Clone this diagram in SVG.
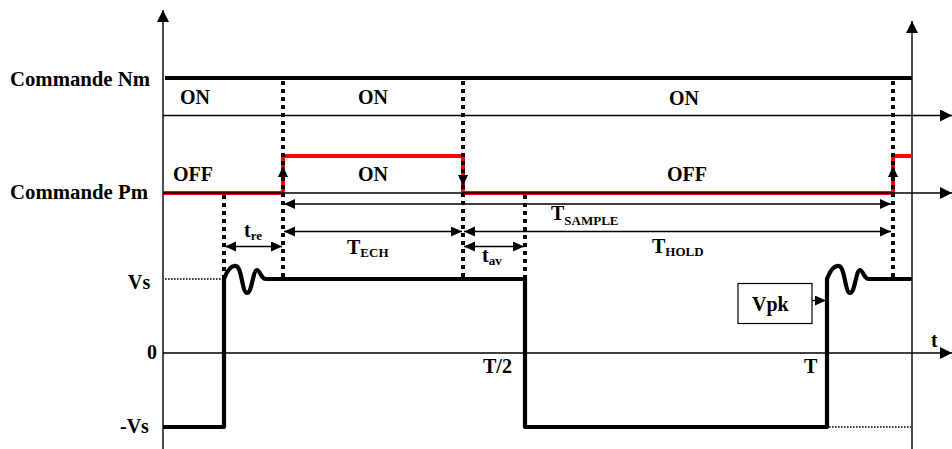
<svg xmlns="http://www.w3.org/2000/svg" width="952" height="449" viewBox="0 0 952 449">
<style>
text{font-family:"Liberation Serif","Times New Roman",serif;font-weight:bold;fill:#000}
.lab{font-size:20px}
.sub{font-size:13px}
.thin{stroke:#000;stroke-width:1.4;fill:none}
.dots{stroke:#000;stroke-width:4;stroke-dasharray:4 4;fill:none}
.fine{stroke:#000;stroke-width:1.3;stroke-dasharray:1.6 1.4;fill:none}
.sig{stroke:#000;stroke-width:4.2;fill:none;stroke-linejoin:round}
.red{stroke:#ff0000;stroke-width:4;fill:none}
</style>
<defs>
<marker id="ah" markerUnits="userSpaceOnUse" markerWidth="14" markerHeight="14" refX="12" refY="6" orient="auto-start-reverse">
<path d="M0,0 L12,6 L0,12 Z" fill="#000"/>
</marker>
<marker id="dm" markerUnits="userSpaceOnUse" markerWidth="12" markerHeight="12" refX="11" refY="5" orient="auto-start-reverse">
<path d="M0,0 L11,5 L0,10 Z" fill="#000"/>
</marker>
</defs>

<g id="axes">
<line class="thin" x1="163" y1="449" x2="163" y2="10" marker-end="url(#ah)"/>
<line class="thin" x1="912" y1="449" x2="912" y2="21" marker-end="url(#ah)"/>
<line class="thin" x1="163" y1="115.5" x2="952" y2="115.5" marker-end="url(#ah)"/>
<line class="thin" x1="163" y1="353" x2="952" y2="353" marker-end="url(#ah)"/>
</g>

<g id="commande-nm">
<line x1="165" y1="78" x2="912" y2="78" stroke="#000" stroke-width="4"/>
<text class="lab" x="10" y="86" textLength="140" lengthAdjust="spacingAndGlyphs">Commande Nm</text>
<text class="lab" x="180" y="104">ON</text>
<text class="lab" x="358" y="104">ON</text>
<text class="lab" x="669" y="105">ON</text>
</g>

<g id="commande-pm">
<path class="red" d="M163,193 L283,193 L283,156 L463,156 L463,193 L893,193 L893,156 L912,156"/>
<line class="thin" x1="163" y1="193" x2="952" y2="193" marker-end="url(#ah)"/>
<text class="lab" x="10" y="199" textLength="138" lengthAdjust="spacingAndGlyphs">Commande Pm</text>
<text class="lab" x="173" y="181">OFF</text>
<text class="lab" x="358" y="181">ON</text>
<text class="lab" x="667" y="181">OFF</text>
</g>

<g id="connectors">
<line class="dots" x1="283" y1="81" x2="283" y2="281"/>
<line class="dots" x1="463" y1="81" x2="463" y2="281"/>
<line class="dots" x1="893" y1="81" x2="893" y2="281"/>
<line class="dots" x1="224" y1="195" x2="224" y2="281"/>
<line class="dots" x1="525" y1="195" x2="525" y2="281"/>
<path d="M283,166 L288,177 L278,177 Z" fill="#000"/>
<path d="M463,186 L468,175 L458,175 Z" fill="#000"/>
<path d="M893,166 L898,177 L888,177 Z" fill="#000"/>
<line class="thin" x1="284" y1="204" x2="891" y2="204" marker-start="url(#dm)" marker-end="url(#dm)"/>
<line class="thin" x1="284" y1="231.5" x2="462" y2="231.5" marker-start="url(#dm)" marker-end="url(#dm)"/>
<line class="thin" x1="464" y1="231.5" x2="891" y2="231.5" marker-start="url(#dm)" marker-end="url(#dm)"/>
<line class="thin" x1="225" y1="246.5" x2="282" y2="246.5" marker-start="url(#dm)" marker-end="url(#dm)"/>
<line class="thin" x1="464" y1="246.5" x2="524" y2="246.5" marker-start="url(#dm)" marker-end="url(#dm)"/>
<line class="thin" x1="798" y1="300.5" x2="826" y2="300.5" stroke-width="2" marker-end="url(#dm)"/>
</g>

<g id="timing-labels">
<text class="lab" x="551" y="220" font-size="19">T<tspan class="sub" dy="5">SAMPLE</tspan></text>
<text class="lab" x="347" y="254" font-size="19">T<tspan class="sub" dy="2.5">ECH</tspan></text>
<text class="lab" x="652" y="253" font-size="19">T<tspan class="sub" dy="3">HOLD</tspan></text>
<text class="lab" x="244" y="237">t<tspan class="sub" dy="3">re</tspan></text>
<text class="lab" x="482" y="262">t<tspan class="sub" dy="3">av</tspan></text>
</g>

<g id="signal">
<line class="fine" x1="165" y1="279" x2="223" y2="279"/>
<line class="fine" x1="829" y1="427" x2="911" y2="427"/>
<path class="sig" d="M163,427 L224,427 L224,279 C227,271 231,265 236,266 C242,267 242,293 247,293 C252,293 253,270 257,270 C260,270 261,279 266,279 L525,279 L525,427 L827,427 L827,279 C830,271 834,265 839,266 C845,267 845,293 850,293 C855,293 856,270 860,270 C863,270 864,279 869,279 L912,279"/>
<text class="lab" x="128" y="289">Vs</text>
<text class="lab" x="147" y="359">0</text>
<text class="lab" x="120" y="433">-Vs</text>
<text class="lab" x="483" y="373">T/2</text>
<text class="lab" x="804" y="373">T</text>
<text class="lab" x="931" y="347">t</text>
</g>

<g id="vpk">
<rect x="738" y="283.5" width="74" height="40" fill="#fff" stroke="#000" stroke-width="1.2"/>
<text class="lab" x="752" y="311">Vpk</text>
</g>
</svg>
